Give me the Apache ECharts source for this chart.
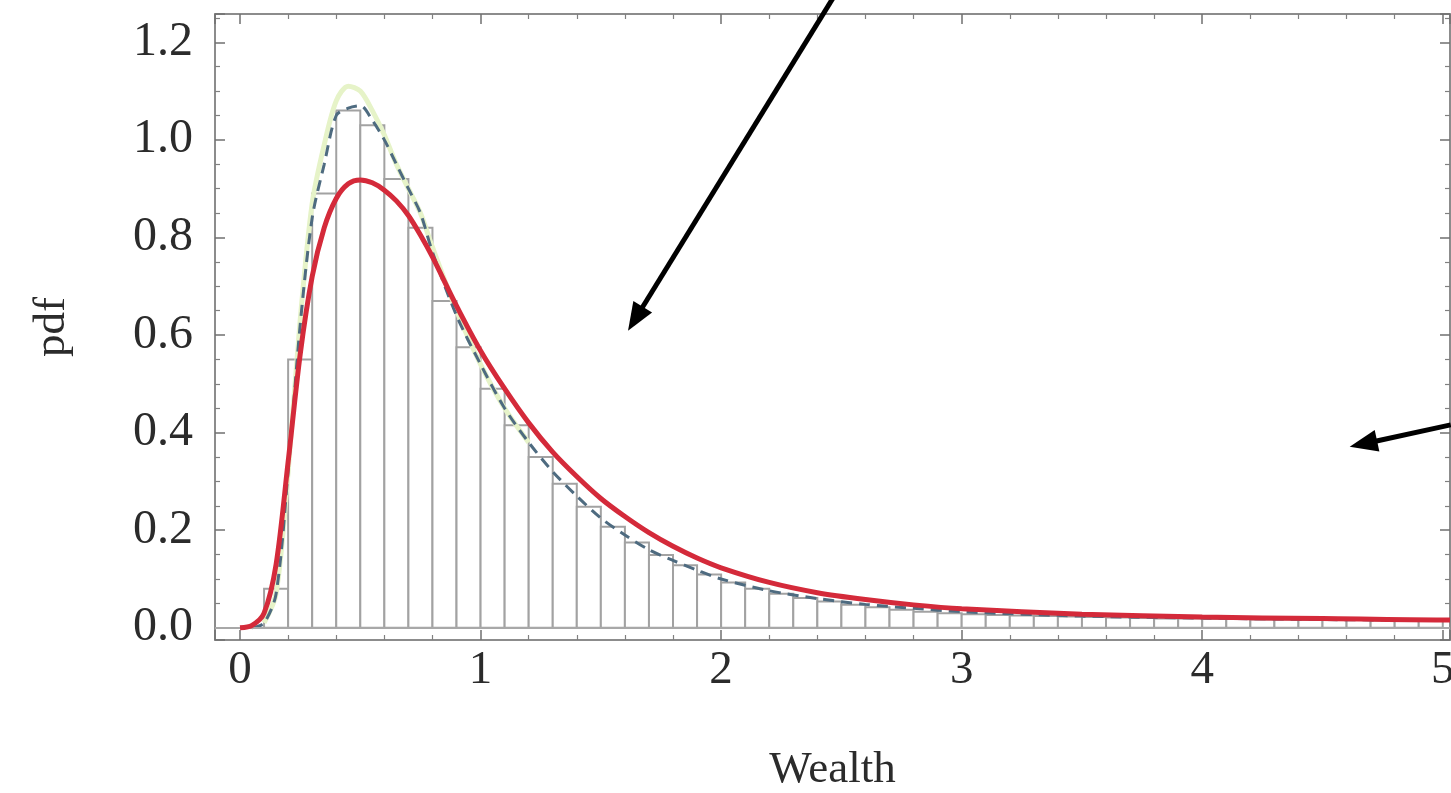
<!DOCTYPE html>
<html><head><meta charset="utf-8">
<script src="https://cdn.jsdelivr.net/npm/echarts@6/dist/echarts.min.js"></script>
<style>html,body{margin:0;padding:0;background:#fff}#c{width:1451px;height:793px}</style>
</head><body><div id="c"></div><script>
// ---- data ----
const binLeft = [0.0,0.1,0.2,0.3,0.4,0.5,0.6,0.7,0.8,0.9,1.0,1.1,1.2,1.3,1.4,1.5,1.6,1.7,1.8,1.9,2.0,2.1,2.2,2.3,2.4,2.5,2.6,2.7,2.8,2.9,3.0,3.1,3.2,3.3,3.4,3.5,3.6,3.7,3.8,3.9,4.0,4.1,4.2,4.3,4.4,4.5,4.6,4.7,4.8,4.9];
const binWidth = 0.1;
const histY = [0.0,0.08,0.55,0.89,1.06,1.03,0.92,0.82,0.67,0.575,0.49,0.415,0.35,0.295,0.248,0.207,0.175,0.149,0.128,0.109,0.093,0.080,0.070,0.061,0.054,0.047,0.042,0.037,0.033,0.030,0.028,0.026,0.025,0.024,0.023,0.022,0.021,0.020,0.019,0.019,0.018,0.018,0.017,0.017,0.016,0.016,0.016,0.015,0.015,0.015];

const dashedX = [0.05,0.1,0.15,0.2,0.25,0.3,0.35,0.4,0.45,0.5,0.55,0.6,0.65,0.7,0.75,0.8,0.9,1.0,1.1,1.2,1.3,1.4,1.5,1.6,1.7,1.8,1.9,2.0,2.2,2.4,2.6,2.8,3.0,3.5,4.0,4.5,5.0];
const dashedY = [0.0,0.01,0.07,0.32,0.62,0.84,0.95,1.05,1.065,1.07,1.04,1.0,0.95,0.9,0.85,0.77,0.64,0.54,0.45,0.38,0.32,0.27,0.225,0.19,0.16,0.138,0.118,0.10,0.076,0.06,0.048,0.04,0.033,0.024,0.02,0.017,0.015];

const greenX = [0.1,0.15,0.2,0.25,0.3,0.35,0.4,0.45,0.5,0.55,0.6,0.65,0.7,0.75,0.8,0.9,1.0,1.1,1.2];
const greenY = [0.01,0.07,0.32,0.63,0.87,0.99,1.08,1.11,1.10,1.06,1.01,0.95,0.9,0.85,0.78,0.65,0.54,0.45,0.38];

const redX = [0,0.05,0.1,0.15,0.2,0.25,0.3,0.35,0.4,0.45,0.5,0.55,0.6,0.65,0.7,0.75,0.8,0.9,1.0,1.1,1.2,1.3,1.4,1.5,1.6,1.7,1.8,1.9,2.0,2.2,2.4,2.6,2.8,3.0,3.5,4.0,4.5,5.0,5.03];
const redY = [0.0,0.005,0.03,0.13,0.34,0.56,0.72,0.82,0.88,0.91,0.918,0.912,0.897,0.875,0.845,0.805,0.76,0.66,0.568,0.49,0.42,0.36,0.31,0.265,0.228,0.195,0.167,0.143,0.123,0.093,0.072,0.058,0.047,0.039,0.028,0.022,0.019,0.016,0.016];

// annotation arrows [tailX, tailY, tipX, tipY] in data units
const arrows = [[2.473,1.297,1.613,0.609],[5.033,0.416,4.613,0.371]];

const xName = 'Wealth', yName = 'pdf';

// ---- chart ----
const chart = echarts.init(document.getElementById('c'), null, {renderer:'canvas'});
const frame = '#8c8c8c';
const font = 'Liberation Serif';
const tickStyle = {show:true, inside:true, length:10, lineStyle:{color:'#707070', width:1.5}};
const minorStyle = {show:true, length:5, lineStyle:{color:'#808080', width:1.2}};
const X = {min:-0.104, max:5.03, splitNumber:5};
const Y = {min:-0.025, max:1.258, splitNumber:6};

const option = {
  backgroundColor:'#fff',
  animation:false,
  grid:{left:215, right:1, top:14, bottom:153, containLabel:false, outerBoundsMode:'none'},
  xAxis:[
    {type:'value', position:'bottom', min:X.min, max:X.max, splitNumber:X.splitNumber,
     axisLine:{show:true, onZero:false, lineStyle:{color:frame, width:2}},
     axisTick:tickStyle, minorTick:Object.assign({splitNumber:5}, minorStyle),
     splitLine:{show:false},
     axisLabel:{showMinLabel:false, showMaxLabel:false, fontFamily:font, fontSize:47, color:'#2b2b2b', margin:7,
       formatter:v=>String(Math.round(v))},
     name:xName, nameLocation:'middle', nameGap:108,
     nameTextStyle:{fontFamily:font, fontSize:45, color:'#2b2b2b'}},
    {type:'value', position:'top', min:X.min, max:X.max, splitNumber:X.splitNumber,
     axisLine:{show:true, onZero:false, lineStyle:{color:frame, width:2}},
     axisTick:tickStyle, minorTick:Object.assign({splitNumber:5}, minorStyle),
     splitLine:{show:false}, axisLabel:{show:false}}
  ],
  yAxis:[
    {type:'value', position:'left', min:Y.min, max:Y.max, splitNumber:Y.splitNumber,
     axisLine:{show:true, onZero:false, lineStyle:{color:frame, width:2}},
     axisTick:tickStyle, minorTick:Object.assign({splitNumber:4}, minorStyle),
     splitLine:{show:false},
     axisLabel:{showMinLabel:false, showMaxLabel:false, fontFamily:font, fontSize:48, color:'#2b2b2b', margin:22,
       formatter:v=>v.toFixed(1)},
     name:yName, nameLocation:'middle', nameGap:140, nameRotate:90,
     nameTextStyle:{fontFamily:font, fontSize:45, color:'#2b2b2b'}},
    {type:'value', position:'right', min:Y.min, max:Y.max, splitNumber:Y.splitNumber,
     axisLine:{show:true, onZero:false, lineStyle:{color:frame, width:2}},
     axisTick:tickStyle, minorTick:Object.assign({splitNumber:4}, minorStyle),
     splitLine:{show:false}, axisLabel:{show:false}}
  ],
  series:[
    {type:'custom', name:'hist', xAxisIndex:0, yAxisIndex:0, z:2,
     data: binLeft.map((b,i)=>[b, b+binWidth, histY[i]]),
     renderItem:(params, api)=>{
       const p0 = api.coord([api.value(0), 0]);
       const p1 = api.coord([api.value(1), api.value(2)]);
       return {type:'rect', shape:{x:p0[0], y:p1[1], width:p1[0]-p0[0], height:p0[1]-p1[1]},
               style:{fill:'#ffffff', stroke:'#a2a2a2', lineWidth:2}};
     },
     markLine:{silent:true, symbol:['none','none'], label:{show:false},
       lineStyle:{color:'#a8a8a8', width:2, type:'solid'}, data:[{yAxis:0}]}
    },
    {type:'line', name:'green', z:3, showSymbol:false, smooth:0.3,
     data: greenX.map((x,i)=>[x, greenY[i]]),
     lineStyle:{color:'#e6f3c8', width:5}},
    {type:'line', name:'dashed', z:4, showSymbol:false, smooth:0.3,
     data: dashedX.map((x,i)=>[x, dashedY[i]]),
     lineStyle:{color:'#4e6b80', width:3, type:[11,7]}},
    {type:'line', name:'fit', z:5, showSymbol:false, smooth:0.3,
     data: redX.map((x,i)=>[x, redY[i]]),
     lineStyle:{color:'#d42a3a', width:5}}
  ]
};
chart.setOption(option);

// arrows, positioned through the chart's own coordinate system
const gfx = [];
arrows.forEach(a=>{
  const t = chart.convertToPixel({xAxisIndex:0, yAxisIndex:0}, [a[0], a[1]]);
  const h = chart.convertToPixel({xAxisIndex:0, yAxisIndex:0}, [a[2], a[3]]);
  const dx = h[0]-t[0], dy = h[1]-t[1], L = Math.hypot(dx,dy);
  const ux = dx/L, uy = dy/L, nx = -uy, ny = ux;
  const hl = 28, hw = 11;
  const bx = h[0]-ux*hl, by = h[1]-uy*hl;
  gfx.push({type:'line', z:100, shape:{x1:t[0], y1:t[1], x2:bx+ux*4, y2:by+uy*4}, style:{stroke:'#000', lineWidth:5}});
  gfx.push({type:'polygon', z:100, shape:{points:[[h[0],h[1]],[bx+nx*hw, by+ny*hw],[bx-nx*hw, by-ny*hw]]}, style:{fill:'#000'}});
});
chart.setOption({graphic:gfx});
</script></body></html>
